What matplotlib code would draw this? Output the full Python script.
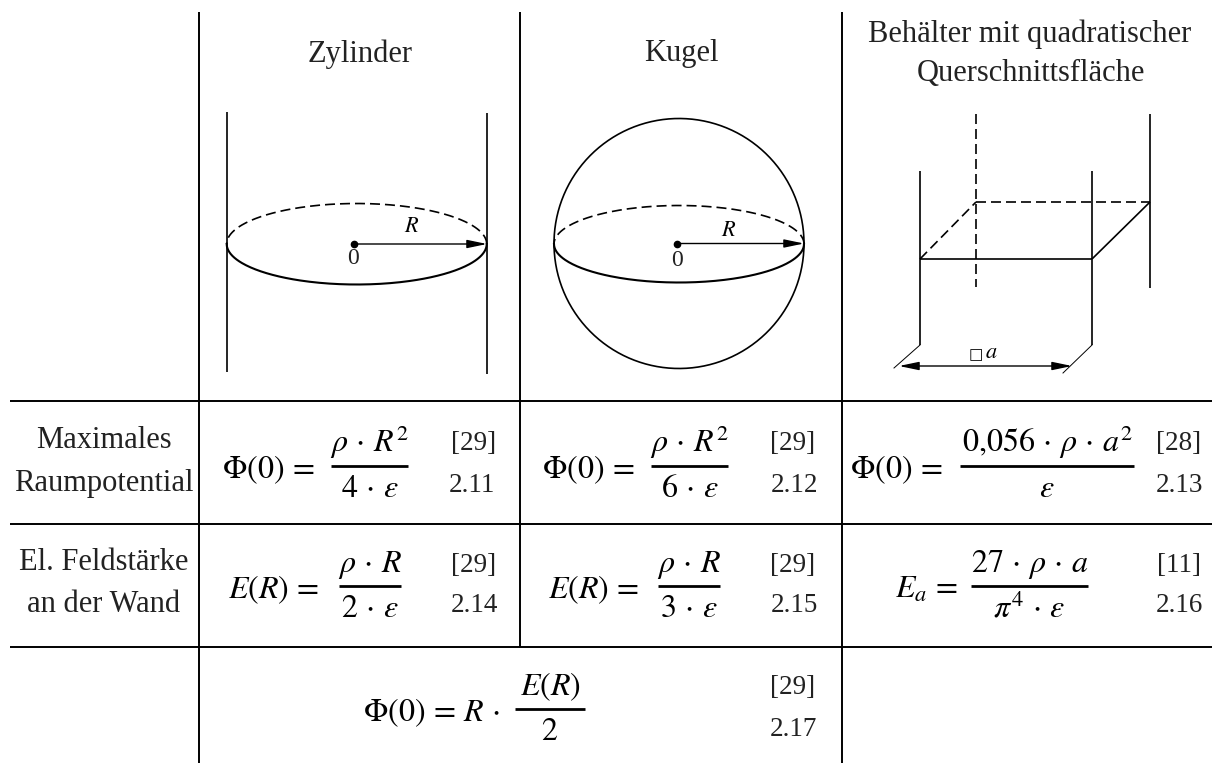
import numpy as np
import matplotlib
matplotlib.use("Agg")
import matplotlib.pyplot as plt

plt.rcParams['font.family'] = ['Liberation Serif', 'DejaVu Sans']
plt.rcParams['mathtext.fontset'] = 'stix'

headers = [("Zylinder", 360, 54), ("Kugel", 681, 54),
           ("Behälter mit quadratischer", 1030, 34), ("Querschnittsfläche", 1031, 74)]
row_labels = [("Maximales", 104, 440), ("Raumpotential", 104, 484),
              ("El. Feldstärke", 104, 563), ("an der Wand", 104, 605)]
h_lines = [(401, 10, 1212), (524, 10, 1212), (647, 10, 1212)]
v_lines = [(199, 12, 763), (520, 12, 647), (842, 12, 763)]

# lhs, lhs x, numerator, denominator, bar x0, bar x1, y of bar
formulas = [
    (r"$\Phi(0)\,=$", 222, r"$\rho\,\cdot\,R^2$", r"$4\,\cdot\,\varepsilon$", 331, 408, 466),
    (r"$\Phi(0)\,=$", 542, r"$\rho\,\cdot\,R^2$", r"$6\,\cdot\,\varepsilon$", 651, 728, 466),
    (r"$\Phi(0)\,=$", 850, r"$0{,}056\,\cdot\,\rho\,\cdot\,a^2$", r"$\varepsilon$", 960, 1134, 466),
    (r"$E(R)\,=$", 228, r"$\rho\,\cdot\,R$", r"$2\,\cdot\,\varepsilon$", 339, 401, 586),
    (r"$E(R)\,=$", 548, r"$\rho\,\cdot\,R$", r"$3\,\cdot\,\varepsilon$", 658, 720, 586),
    (r"$E_a\,=$", 895, r"$27\,\cdot\,\rho\,\cdot\,a$", r"$\pi^4\,\cdot\,\varepsilon$", 971, 1088, 586),
    (r"$\Phi(0)\,=\,R\,\cdot$", 363, r"$E(R)$", r"$2$", 515, 585, 709),
]
refs = [("[29]", 474, 444), ("2.11", 472, 485), ("[29]", 793, 444), ("2.12", 794, 485),
        ("[28]", 1179, 444), ("2.13", 1179, 485), ("[29]", 474, 565), ("2.14", 474, 605),
        ("[29]", 793, 565), ("2.15", 794, 605), ("[11]", 1179, 565), ("2.16", 1179, 605),
        ("[29]", 793, 688), ("2.17", 793, 729)]

cyl_cx, cyl_cy, cyl_rx, cyl_ry = 356.7, 244, 130, 40.5
sph_cx, sph_cy, sph_r = 679, 243.5, 125
sph_eq_y, sph_eq_ry = 244, 38.5
walls_solid = [((226.7, 226.7), (112, 372)), ((486.7, 486.7), (113, 374)),
               ((920, 920), (171, 345)), ((1092, 1092), (171, 345)),
               ((1150, 1150), (114, 288)), ((920, 1092), (259, 259)),
               ((1092, 1150), (259, 202))]
walls_dashed = [((976, 976), (114, 287)), ((976, 1150), (202, 202)), ((920, 976), (259, 202))]
walls_thin = [((920, 894), (345, 368)), ((1092, 1063), (345, 373))]

fig = plt.figure(figsize=(12.12, 7.63), dpi=100)
ax = fig.add_axes([0, 0, 1, 1])
ax.set_xlim(0, 1212)
ax.set_ylim(763, 0)
ax.axis('off')

FS = 22
RFS = 19.5
MS = 23
INK = '#222222'
DASH = (0, (6, 3))
for y, x0, x1 in h_lines:
    ax.plot([x0, x1], [y, y], color='black', lw=1.4, solid_capstyle='butt')
for x, y0, y1 in v_lines:
    ax.plot([x, x], [y0, y1], color='black', lw=1.4, solid_capstyle='butt')

for s, x, y in headers + row_labels:
    ax.text(x, y, s, ha='center', va='center', fontsize=FS, color=INK)
for s, x, y in refs:
    ax.text(x, y, s, ha='center', va='center', fontsize=RFS, color=INK)

for lhs, lx, num, den, b0, b1, by in formulas:
    ax.text(lx, by + 12, lhs, ha='left', va='baseline', fontsize=MS, color='black')
    ax.plot([b0, b1], [by, by], color='black', lw=2.0, solid_capstyle='butt')
    mid = (b0 + b1) / 2
    ax.text(mid, by - 14, num, ha='center', va='baseline', fontsize=MS, color='black')
    ax.text(mid, by + 31, den, ha='center', va='baseline', fontsize=MS, color='black')

t = np.linspace(0, np.pi, 200)
LW = 1.2
# cylinder
ax.plot(cyl_cx + cyl_rx*np.cos(t), cyl_cy + cyl_ry*np.sin(t), color='black', lw=1.5)
ax.plot(cyl_cx + cyl_rx*np.cos(t), cyl_cy - cyl_ry*np.sin(t), color='black', lw=LW, ls=DASH)
# sphere
th = np.linspace(0, 2*np.pi, 400)
ax.plot(sph_cx + sph_r*np.cos(th), sph_cy + sph_r*np.sin(th), color='black', lw=LW)
ax.plot(sph_cx + sph_r*np.cos(t), sph_eq_y + sph_eq_ry*np.sin(t), color='black', lw=1.5)
ax.plot(sph_cx + sph_r*np.cos(t), sph_eq_y - sph_eq_ry*np.sin(t), color='black', lw=LW, ls=DASH)

for xs, ys in walls_solid:
    ax.plot(xs, ys, color='black', lw=LW, solid_capstyle='butt')
for xs, ys in walls_dashed:
    ax.plot(xs, ys, color='black', lw=LW, ls=DASH)
for xs, ys in walls_thin:
    ax.plot(xs, ys, color='black', lw=0.7)

def arrow(x0, y0, x1, y1, style='-|>'):
    ax.annotate('', xy=(x1, y1), xytext=(x0, y0),
                arrowprops=dict(arrowstyle=style + ',head_length=1.2,head_width=0.25',
                                mutation_scale=10, color='black', lw=1.0, shrinkA=0, shrinkB=0))

ax.plot([353.7], [244], 'o', color='black', ms=4.5)
arrow(353.7, 244, 487, 244)
ax.text(412, 227, r"$R$", ha='center', va='center', fontsize=16)
ax.text(353, 259, "0", ha='center', va='center', fontsize=17, color=INK)
ax.plot([677], [243.5], 'o', color='black', ms=4.5)
arrow(677, 243.5, 804, 243.5)
ax.text(729, 231, r"$R$", ha='center', va='center', fontsize=16)
ax.text(677, 260, "0", ha='center', va='center', fontsize=17, color=INK)
arrow(899, 366, 1072, 366, '<|-|>')
ax.text(982.5, 354.5, "□", ha='right', va='center', fontsize=11, family=['DejaVu Sans'])
ax.text(985, 354, r"$a$", ha='left', va='center', fontsize=16)

fig.savefig("out.png", dpi=100)
